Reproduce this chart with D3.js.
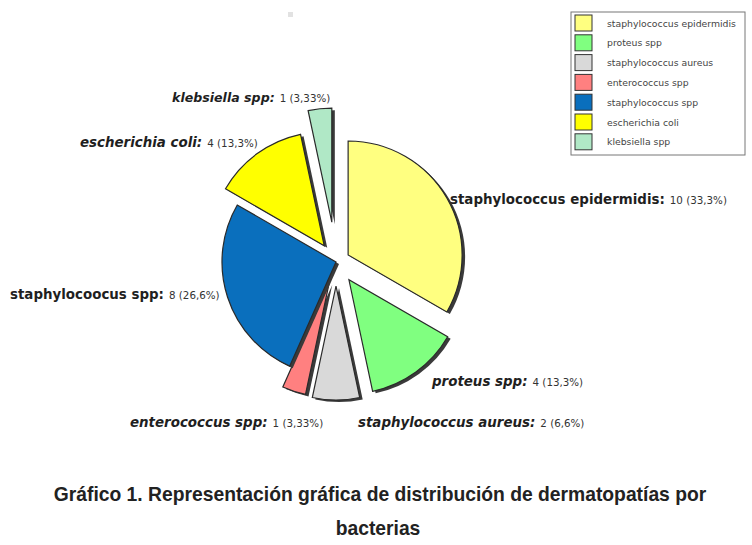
<!DOCTYPE html>
<html><head><meta charset="utf-8">
<script src="https://cdn.jsdelivr.net/npm/d3@7"></script>
<style>body{margin:0;background:#fff}svg{display:block}</style>
</head><body>
<svg id="chart" width="752" height="545"></svg>
<script>
const categories = ["staphylococcus epidermidis","proteus spp","staphylococcus aureus","enterococcus spp","staphylococcus spp","escherichia coli","klebsiella spp"];
const labelNames = ["staphylococcus epidermidis:","proteus spp:","staphylococcus aureus:","enterococcus spp:","staphylocoocus spp:","escherichia coli:","klebsiella spp:"];
const values = [10,4,2,1,8,4,1];
const percentLabels = ["33,3%","13,3%","6,6%","3,33%","26,6%","13,3%","3,33%"];
const colors = ["#ffff80","#80ff80","#d9d9d9","#ff8080","#0a6fbd","#ffff00","#b0e8c6"];

// styling / layout
const explode = [14,22,24,22,0,20,40];
const italic = [false,true,true,true,false,true,true];
const labelPos = [[450,204],[432,386],[358,427],[130,427],[10,299],[80,147],[172,102]];

const svg = d3.select("#chart");
const cx = 336, cy = 262, r = 114;
const pie = d3.pie().sort(null).value(d=>d)(values);
const arc = d3.arc().innerRadius(0).outerRadius(r);
const g = svg.append("g").attr("transform",`translate(${cx},${cy})`);
pie.forEach((p,i)=>{
  const mid=(p.startAngle+p.endAngle)/2;
  const dx=Math.sin(mid)*explode[i], dy=-Math.cos(mid)*explode[i];
  const s=g.append("g").attr("transform",`translate(${dx},${dy})`);
  s.append("path").attr("d",arc(p)).attr("transform","translate(3,2)").attr("fill","#3a3a3a");
  s.append("path").attr("d",arc(p)).attr("fill",colors[i]).attr("stroke","#2a2a2a").attr("stroke-width",1.2);
});

// labels
pie.forEach((p,i)=>{
  const t=svg.append("text").attr("x",labelPos[i][0]).attr("y",labelPos[i][1])
    .attr("font-family","DejaVu Sans, Verdana, sans-serif").attr("fill","#1f1f1f");
  t.append("tspan").text(labelNames[i]).attr("font-size",i===6?12.6:13.4).attr("font-weight","bold")
    .attr("font-style",italic[i]?"italic":"normal");
  t.append("tspan").attr("dx",5).attr("font-size",10.3).attr("fill","#333")
    .text(`${values[i]} (${percentLabels[i]})`);
});

// legend
const lg = svg.append("g").attr("transform","translate(571,12)");
lg.append("rect").attr("width",174).attr("height",143).attr("fill","#fff").attr("stroke","#777").attr("stroke-width",1);
categories.forEach((c,i)=>{
  const y=3+i*19.8;
  lg.append("rect").attr("x",4).attr("y",y).attr("width",17).attr("height",16)
    .attr("fill",colors[i]).attr("stroke","#333").attr("stroke-width",1);
  lg.append("text").attr("x",36).attr("y",y+11.5).attr("font-family","DejaVu Sans, sans-serif")
    .attr("font-size",9.3).attr("fill","#444").text(c);
});

svg.append("rect").attr("x",288).attr("y",12).attr("width",5).attr("height",5).attr("fill","#e2e2e2");

// title
const title = svg.append("text").attr("text-anchor","middle").attr("font-family","Liberation Sans, Arial, sans-serif")
  .attr("font-weight","bold").attr("font-size",19.3).attr("fill","#222");
title.append("tspan").attr("x",380).attr("y",501).text("Gráfico 1. Representación gráfica de distribución de dermatopatías por");
title.append("tspan").attr("x",378).attr("y",535).text("bacterias");
</script>
</body></html>
